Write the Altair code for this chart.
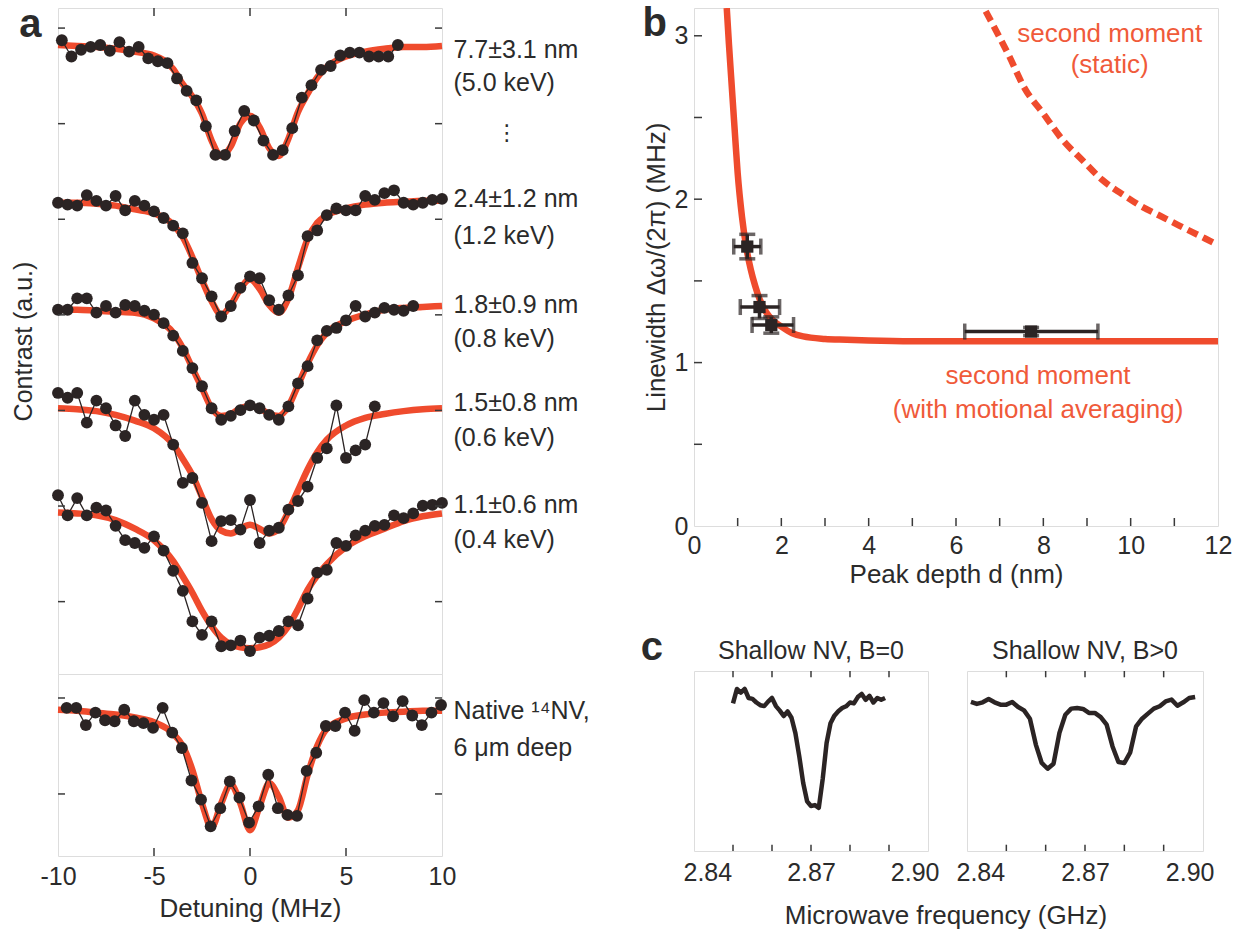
import altair as alt
import numpy as np
import pandas as pd

FONT = "Liberation Sans, Arial, Helvetica, sans-serif"
INK = "#2b2424"
FRAME = "#3a3a3a"
RED = "#ef4b2d"
RED_TXT = "#f05a3a"
TXT = "#2b2b2b"

# ---------------- panel a : measured spectra (detuning start, step, contrast a.u. with display offset)
S77_X0 = -9.8
S77 = [6.63, 6.46, 6.53, 6.56, 6.58, 6.52, 6.61, 6.51, 6.56, 6.44, 6.41, 6.39, 6.23, 6.10, 6.00,
       5.73, 5.43, 5.43, 5.68, 5.89, 5.79, 5.58, 5.43, 5.48, 5.71, 6.03, 6.16, 6.32, 6.36, 6.47,
       6.50, 6.50, 6.46, 6.46, 6.46, 6.58]
S24_X0 = -10.0
S24 = [4.93, 4.91, 4.90, 5.01, 4.95, 4.90, 5.00, 4.85, 4.95, 4.90, 4.84, 4.77, 4.69, 4.61, 4.30,
       4.14, 3.95, 3.74, 3.85, 4.04, 4.16, 4.14, 3.91, 3.81, 3.96, 4.17, 4.58, 4.64, 4.80, 4.87,
       4.85, 4.85, 5.00, 4.96, 5.03, 5.06, 4.93, 4.91, 4.93, 4.96, 4.97]
S18_X0 = -10.0
S18 = [3.81, 3.81, 3.93, 3.93, 3.78, 3.85, 3.78, 3.86, 3.85, 3.80, 3.76, 3.67, 3.54, 3.38, 3.20,
       3.01, 2.78, 2.66, 2.70, 2.76, 2.81, 2.78, 2.71, 2.66, 2.80, 3.04, 3.22, 3.49, 3.59, 3.62,
       3.70, 3.85, 3.74, 3.78, 3.83, 3.81, 3.80, 3.85]
S15_X0 = -10.0
S15 = [2.94, 2.89, 2.94, 2.63, 2.86, 2.78, 2.60, 2.49, 2.86, 2.71, 2.66, 2.71, 2.40, 2.00, 2.05,
       1.79, 1.39, 1.60, 1.61, 1.51, 1.82, 1.37, 1.50, 1.53, 1.72, 1.81, 1.96, 2.26, 2.36, 2.81,
       2.26, 2.34, 2.40, 2.80]
S11_X0 = -10.0
S11 = [1.87, 1.66, 1.84, 1.66, 1.74, 1.71, 1.55, 1.40, 1.37, 1.32, 1.44, 1.29, 1.08, 0.87, 0.55,
       0.41, 0.55, 0.29, 0.30, 0.35, 0.24, 0.38, 0.40, 0.45, 0.55, 0.51, 0.79, 1.06, 1.09, 1.37,
       1.34, 1.45, 1.50, 1.55, 1.56, 1.66, 1.63, 1.68, 1.76, 1.77, 1.79]
SNAT_X0 = -9.55
SNAT = [1.55, 1.55, 1.37, 1.50, 1.42, 1.41, 1.53, 1.41, 1.39, 1.34, 1.55, 1.29, 1.13, 0.79, 0.59,
        0.31, 0.50, 0.78, 0.61, 0.35, 0.52, 0.85, 0.50, 0.43, 0.42, 0.89, 1.08, 1.36, 1.36, 1.50,
        1.31, 1.63, 1.50, 1.60, 1.46, 1.62, 1.47, 1.37, 1.50, 1.58]
STEP_A = 0.5

# fitted curves (red)
FIT_X = [-10, -9, -8, -7, -6, -5, -4, -3.5, -3, -2.5, -2, -1.5, -1, -0.5, 0, 0.5, 1, 1.5, 2, 2.5,
         3, 3.5, 4, 5, 6, 7, 8, 9, 10]
FIT77 = [6.58, 6.57, 6.56, 6.54, 6.51, 6.47, 6.33, 6.17, 6.04, 5.86, 5.58, 5.42, 5.52, 5.76, 5.84,
         5.72, 5.50, 5.42, 5.60, 5.88, 6.07, 6.24, 6.35, 6.46, 6.51, 6.54, 6.56, 6.56, 6.57]
FIT24 = [4.93, 4.93, 4.92, 4.90, 4.86, 4.82, 4.70, 4.57, 4.36, 4.12, 3.90, 3.76, 3.86, 4.03, 4.13,
         4.03, 3.86, 3.78, 3.93, 4.25, 4.55, 4.72, 4.80, 4.87, 4.91, 4.93, 4.94, 4.95, 4.95]
FIT18 = [3.81, 3.81, 3.80, 3.79, 3.78, 3.72, 3.57, 3.41, 3.20, 2.99, 2.78, 2.70, 2.72, 2.78, 2.80,
         2.78, 2.72, 2.70, 2.80, 3.02, 3.25, 3.44, 3.57, 3.69, 3.76, 3.81, 3.83, 3.84, 3.85]
FIT15 = [2.78, 2.77, 2.75, 2.71, 2.65, 2.57, 2.40, 2.25, 2.08, 1.85, 1.62, 1.50, 1.47, 1.52, 1.56,
         1.52, 1.47, 1.52, 1.70, 1.92, 2.14, 2.32, 2.45, 2.60, 2.68, 2.72, 2.75, 2.77, 2.78]
FIT11 = [1.69, 1.68, 1.66, 1.61, 1.52, 1.40, 1.18, 1.02, 0.85, 0.66, 0.50, 0.38, 0.31, 0.28, 0.27,
         0.28, 0.31, 0.38, 0.50, 0.68, 0.88, 1.03, 1.15, 1.33, 1.44, 1.52, 1.60, 1.65, 1.68]
FITNAT = [1.53, 1.52, 1.50, 1.48, 1.45, 1.40, 1.28, 1.15, 0.90, 0.55, 0.30, 0.55, 0.75, 0.55, 0.27,
          0.52, 0.76, 0.62, 0.40, 0.48, 0.85, 1.15, 1.33, 1.44, 1.48, 1.50, 1.51, 1.52, 1.52]

LABELS_A = ["7.7±3.1 nm", "(5.0 keV)", "2.4±1.2 nm", "(1.2 keV)", "1.8±0.9 nm", "(0.8 keV)",
            "1.5±0.8 nm", "(0.6 keV)", "1.1±0.6 nm", "(0.4 keV)"]
LABELS_A_Y = [6.53, 6.18, 4.97, 4.58, 3.86, 3.50, 2.83, 2.47, 1.77, 1.40]
LABELS_NAT = ["Native ¹⁴NV,", "6 μm deep"]
LABELS_NAT_Y = [1.52, 1.13]

A_TOP_TICK_Y = [0.757, 1.757, 2.757, 3.757, 4.757, 5.757, 6.757]
A_BOT_TICK_Y = [0.649, 1.653]
A_X_TICKS = [-5, 0, 5]

# ---------------- panel b
B_PT_D = [1.22, 1.50, 1.77, 7.72]
B_PT_W = [1.71, 1.34, 1.23, 1.19]
B_D_LO = [0.91, 1.06, 1.33, 6.20]
B_D_HI = [1.53, 1.96, 2.28, 9.25]
B_W_LO = [1.635, 1.27, 1.18, 1.165]
B_W_HI = [1.785, 1.41, 1.28, 1.215]
SOLID_D = [0.75, 0.8, 0.85, 0.9, 0.95, 1.0, 1.1, 1.2, 1.3, 1.4, 1.5, 1.65, 1.8, 2.0, 2.25, 2.5,
           3.0, 3.5, 4.0, 5.0, 6.0, 8.0, 10.0, 12.0]
SOLID_W = [3.17, 2.95, 2.75, 2.55, 2.35, 2.16, 1.89, 1.70, 1.57, 1.47, 1.39, 1.31, 1.26, 1.22,
           1.18, 1.16, 1.145, 1.14, 1.135, 1.13, 1.13, 1.13, 1.13, 1.13]
DASH_D = [6.68, 7.21, 7.57, 8.01, 8.45, 8.89, 9.34, 9.87, 10.22, 10.66, 11.10, 11.55, 12.0]
DASH_W = [3.15, 2.88, 2.68, 2.52, 2.36, 2.24, 2.12, 2.02, 1.96, 1.90, 1.84, 1.78, 1.72]
B_XTICKS = [1, 2, 3, 4, 5, 6, 7, 8, 9, 10, 11]
B_YTICKS = [0.5, 1, 1.5, 2, 2.5, 3]

# ---------------- panel c
C1_X0, C1_STEP = 2.850, 0.001
C1 = [0.82, 0.90, 0.88, 0.90, 0.85, 0.845, 0.825, 0.81, 0.805, 0.83, 0.85, 0.805, 0.78, 0.75,
      0.775, 0.74, 0.655, 0.525, 0.378, 0.276, 0.25, 0.255, 0.24, 0.40, 0.60, 0.71, 0.752, 0.776,
      0.794, 0.804, 0.825, 0.82, 0.855, 0.873, 0.84, 0.862, 0.825, 0.85, 0.84, 0.85]
C2_X0, C2_STEP = 2.841, 0.0015
C2 = [0.828, 0.817, 0.826, 0.844, 0.826, 0.813, 0.813, 0.828, 0.800, 0.781, 0.735, 0.591, 0.489,
      0.457, 0.485, 0.656, 0.757, 0.791, 0.794, 0.789, 0.767, 0.767, 0.744, 0.702, 0.581, 0.494,
      0.489, 0.548, 0.693, 0.735, 0.763, 0.791, 0.804, 0.831, 0.841, 0.807, 0.826, 0.850, 0.856]
C_TICKS = [2.85, 2.86, 2.87, 2.88, 2.89]


def sweep(name, x0, step, vals):
    xs = np.round(x0 + step * np.arange(len(vals)), 4)
    return pd.DataFrame({"x": xs, "y": vals, "s": name})


def curve(name, xs, vals):
    return pd.DataFrame({"x": xs, "y": vals, "s": name})


def enc(xs, ys, xaxis, yaxis):
    return dict(x=alt.X("x:Q", scale=xs, axis=xaxis), y=alt.Y("y:Q", scale=ys, axis=yaxis))


def txt(df, size=25, color=TXT, align="left", weight="normal", font=FONT):
    return alt.Chart(df).mark_text(align=align, baseline="middle", fontSize=size, font=font,
                                   color=color, fontWeight=weight)


# ================= panel a (top)
XA = alt.Scale(domain=[-10, 10], nice=False, zero=False)
YA_T = alt.Scale(domain=[0, 6.967], nice=False, zero=False)
YA_B = alt.Scale(domain=[0, 1.904], nice=False, zero=False)
ya_axis = alt.Axis(title="Contrast (a.u.)", labels=False, ticks=False, domain=False, grid=False,
                   titleFont=FONT, titleFontSize=25, titleFontWeight="normal", titleColor=TXT,
                   titlePadding=22)
e_top = enc(XA, YA_T, None, ya_axis)

meas_top = pd.concat([sweep("77", S77_X0, STEP_A, S77), sweep("24", S24_X0, STEP_A, S24),
                      sweep("18", S18_X0, STEP_A, S18), sweep("15", S15_X0, STEP_A, S15),
                      sweep("11", S11_X0, STEP_A, S11)])
fit_top = pd.concat([curve("77", FIT_X, FIT77), curve("24", FIT_X, FIT24), curve("18", FIT_X, FIT18),
                     curve("15", FIT_X, FIT15), curve("11", FIT_X, FIT11)])

tk_lr = pd.DataFrame({"x": [-10] * 7 + [10] * 7, "x2": [-9.635] * 7 + [9.635] * 7,
                      "y": A_TOP_TICK_Y * 2})
tk_top = pd.DataFrame({"x": A_X_TICKS, "y": [6.967] * 3, "y2": [6.883] * 3})
lab_top = pd.DataFrame({"x": [10.6] * len(LABELS_A), "y": LABELS_A_Y, "t": LABELS_A})
dots = pd.DataFrame({"x": [13.37], "y": [5.66], "t": ["⋮"]})
letter_a = pd.DataFrame({"x": [-11.44], "y": [6.79], "t": ["a"]})

a_top = alt.layer(
    alt.Chart(fit_top).mark_line(color=RED, strokeWidth=6.5, interpolate="monotone").encode(**e_top, detail="s:N"),
    alt.Chart(meas_top).mark_line(color=INK, strokeWidth=1.3).encode(**e_top, detail="s:N"),
    alt.Chart(meas_top).mark_circle(size=140, color=INK, opacity=1).encode(**e_top),
    alt.Chart(tk_lr).mark_rule(color=FRAME, strokeWidth=1.5).encode(**e_top, x2="x2:Q"),
    alt.Chart(tk_top).mark_rule(color=FRAME, strokeWidth=1.5).encode(**e_top, y2="y2:Q"),
    txt(lab_top).encode(**e_top, text="t:N"),
    txt(dots, size=22, align="center", font="DejaVu Sans").encode(**e_top, text="t:N"),
    txt(letter_a, size=40, align="center", weight="bold").encode(**e_top, text="t:N"),
).properties(width=384, height=666)

# ================= panel a (bottom)
xa_axis = alt.Axis(values=[-10, -5, 0, 5, 10], labelExpr="'' + datum.value", ticks=False,
                   domain=False, grid=False, labelFont=FONT, labelFontSize=25, labelColor=TXT,
                   labelPadding=8, labelFlush=False, title="Detuning (MHz)", titleFont=FONT,
                   titleFontSize=26, titleFontWeight="normal", titleColor=TXT, titlePadding=6)
e_bot = enc(XA, YA_B, xa_axis, None)
meas_nat = sweep("nat", SNAT_X0, STEP_A, SNAT)
fit_nat = curve("nat", FIT_X, FITNAT)
tkb_lr = pd.DataFrame({"x": [-10] * 2 + [10] * 2, "x2": [-9.635] * 2 + [9.635] * 2,
                       "y": A_BOT_TICK_Y * 2})
tkb_bot = pd.DataFrame({"x": A_X_TICKS, "y": [0] * 3, "y2": [0.084] * 3})
lab_nat = pd.DataFrame({"x": [10.6] * 2, "y": LABELS_NAT_Y, "t": LABELS_NAT})

a_bot = alt.layer(
    alt.Chart(fit_nat).mark_line(color=RED, strokeWidth=6.5, interpolate="monotone").encode(**e_bot),
    alt.Chart(meas_nat).mark_line(color=INK, strokeWidth=1.3).encode(**e_bot),
    alt.Chart(meas_nat).mark_circle(size=140, color=INK, opacity=1).encode(**e_bot),
    alt.Chart(tkb_lr).mark_rule(color=FRAME, strokeWidth=1.5).encode(**e_bot, x2="x2:Q"),
    alt.Chart(tkb_bot).mark_rule(color=FRAME, strokeWidth=1.5).encode(**e_bot, y2="y2:Q"),
    txt(lab_nat).encode(**e_bot, text="t:N"),
).properties(width=384, height=182)

colA = alt.vconcat(a_top, a_bot, spacing=0, bounds="flush")

# ================= panel b
XB = alt.Scale(domain=[0, 12], nice=False, zero=False)
YB = alt.Scale(domain=[0, 3.17], nice=False, zero=False)
xb_axis = alt.Axis(values=[0, 2, 4, 6, 8, 10, 12], ticks=False, domain=False, grid=False,
                   labelFont=FONT, labelFontSize=25, labelColor=TXT, labelPadding=7, labelFlush=False,
                   title="Peak depth d (nm)", titleFont=FONT, titleFontSize=26,
                   titleFontWeight="normal", titleColor=TXT, titlePadding=3)
yb_axis = alt.Axis(values=[0, 1, 2, 3], ticks=False, domain=False, grid=False, labelFont=FONT,
                   labelFontSize=25, labelColor=TXT, labelPadding=6, labelFlush=False,
                   title="Linewidth Δω/(2π) (MHz)", titleFont=FONT, titleFontSize=26,
                   titleFontWeight="normal", titleColor=TXT, titlePadding=5)
e_b = enc(XB, YB, xb_axis, yb_axis)

solid = curve("solid", SOLID_D, SOLID_W)
dash = curve("dash", DASH_D, DASH_W)
pts_b = pd.DataFrame({"x": B_PT_D, "y": B_PT_W, "xlo": B_D_LO, "xhi": B_D_HI,
                      "ylo": B_W_LO, "yhi": B_W_HI})
tb_y = pd.DataFrame({"x": [0] * len(B_YTICKS), "x2": [0.183] * len(B_YTICKS), "y": B_YTICKS})
tb_x = pd.DataFrame({"x": B_XTICKS, "y": [0] * len(B_XTICKS), "y2": [0.049] * len(B_XTICKS)})
lab_b = pd.DataFrame({"x": [9.52, 9.52, 7.88, 7.88], "y": [3.01, 2.82, 0.92, 0.71],
                      "t": ["second moment", "(static)", "second moment", "(with motional averaging)"]})
letter_b = pd.DataFrame({"x": [-0.9], "y": [3.07], "t": ["b"]})

b_chart = alt.layer(
    alt.Chart(solid).mark_line(color=RED, strokeWidth=6.5, interpolate="monotone", clip=True).encode(**e_b),
    alt.Chart(dash).mark_line(color=RED, strokeWidth=6.5, strokeDash=[11, 6], interpolate="monotone", clip=True).encode(**e_b),
    alt.Chart(pts_b).mark_rule(color=INK, strokeWidth=3.5).encode(x=alt.X("xlo:Q", scale=XB, axis=xb_axis), x2="xhi:Q", y=alt.Y("y:Q", scale=YB, axis=yb_axis)),
    alt.Chart(pts_b).mark_rule(color=INK, strokeWidth=3.5).encode(x=alt.X("x:Q", scale=XB, axis=xb_axis), y=alt.Y("ylo:Q", scale=YB, axis=yb_axis), y2="yhi:Q"),
    alt.Chart(pts_b).mark_tick(color=INK, thickness=3.5, size=16, orient="vertical").encode(x=alt.X("xlo:Q", scale=XB, axis=xb_axis), y=alt.Y("y:Q", scale=YB, axis=yb_axis)),
    alt.Chart(pts_b).mark_tick(color=INK, thickness=3.5, size=16, orient="vertical").encode(x=alt.X("xhi:Q", scale=XB, axis=xb_axis), y=alt.Y("y:Q", scale=YB, axis=yb_axis)),
    alt.Chart(pts_b).mark_tick(color=INK, thickness=3.5, size=16, orient="horizontal").encode(x=alt.X("x:Q", scale=XB, axis=xb_axis), y=alt.Y("ylo:Q", scale=YB, axis=yb_axis)),
    alt.Chart(pts_b).mark_tick(color=INK, thickness=3.5, size=16, orient="horizontal").encode(x=alt.X("x:Q", scale=XB, axis=xb_axis), y=alt.Y("yhi:Q", scale=YB, axis=yb_axis)),
    alt.Chart(pts_b).mark_square(size=150, color=INK, opacity=1).encode(**e_b),
    alt.Chart(tb_y).mark_rule(color=FRAME, strokeWidth=1.5).encode(**e_b, x2="x2:Q"),
    alt.Chart(tb_x).mark_rule(color=FRAME, strokeWidth=1.5).encode(**e_b, y2="y2:Q"),
    txt(lab_b, size=26, color=RED_TXT, align="center").encode(**e_b, text="t:N"),
    txt(letter_b, size=40, align="center", weight="bold").encode(**e_b, text="t:N"),
).properties(width=524, height=518)

# ================= panel c
XC = alt.Scale(domain=[2.84, 2.90], nice=False, zero=False)
YC = alt.Scale(domain=[0, 1], nice=False, zero=False)
xc_axis = alt.Axis(values=[2.84, 2.87, 2.90], format=".2f", ticks=False, domain=False, grid=False,
                   labelFont=FONT, labelFontSize=25, labelColor=TXT, labelPadding=9,
                   labelFlush=True, labelFlushOffset=11, title=None)
e_c = enc(XC, YC, xc_axis, None)
tc = pd.DataFrame({"x": C_TICKS * 2, "y": [0] * 5 + [1] * 5, "y2": [0.035] * 5 + [0.965] * 5})


def c_panel(df, title, extra):
    t = pd.DataFrame({"x": [2.87], "y": [1.111], "t": [title]})
    layers = [
        alt.Chart(df).mark_line(color=INK, strokeWidth=4.5, strokeJoin="round").encode(**e_c),
        alt.Chart(tc).mark_rule(color=FRAME, strokeWidth=1.5).encode(**e_c, y2="y2:Q"),
        txt(t, size=25, align="center").encode(**e_c, text="t:N"),
    ] + extra
    return alt.layer(*layers)


c_extra = [
    txt(pd.DataFrame({"x": [2.8292], "y": [1.128], "t": ["c"]}), size=40, align="center",
        weight="bold").encode(**e_c, text="t:N"),
    txt(pd.DataFrame({"x": [2.9046], "y": [-0.361], "t": ["Microwave frequency (GHz)"]}), size=26,
        align="center").encode(**e_c, text="t:N"),
]
c1 = c_panel(sweep("c1", C1_X0, C1_STEP, C1), "Shallow NV, B=0", c_extra).properties(width=234, height=180)
c2 = c_panel(sweep("c2", C2_X0, C2_STEP, C2), "Shallow NV, B>0", []).properties(width=236, height=180)

cRow = alt.hconcat(c1, c2, spacing=39, bounds="flush")
colB = alt.vconcat(b_chart, cRow, spacing=145, bounds="flush")

# nested concat groups count as zero width under flush bounds, so spacing carries panel a's width
chart = alt.hconcat(colA, colB, spacing=636, bounds="flush").properties(
    padding={"left": 10, "top": 3, "right": 5, "bottom": 5}
).configure_view(stroke=FRAME, strokeWidth=1.5).configure(font=FONT, background="white")

chart.save("out.html", embed_options={"renderer": "svg", "actions": False})
